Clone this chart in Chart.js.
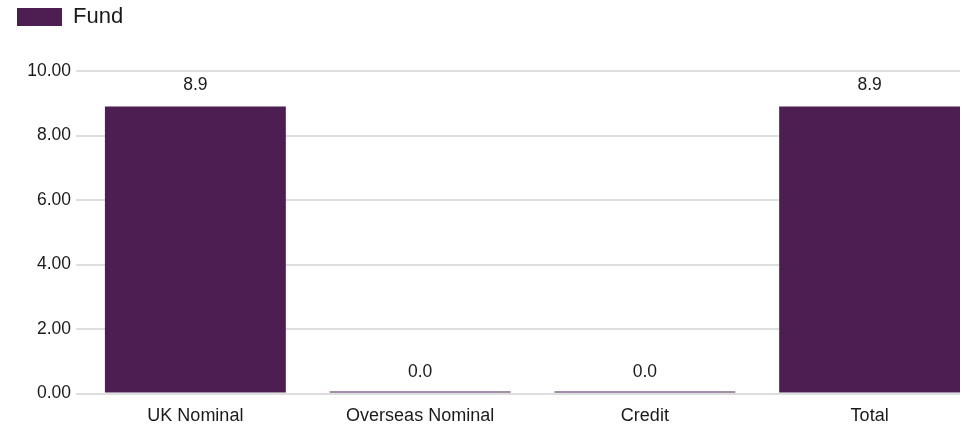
<!DOCTYPE html>
<html>
<head>
<meta charset="utf-8">
<script src="https://cdn.jsdelivr.net/npm/chart.js@4.4.0/dist/chart.umd.min.js"></script>
<style>
  html, body { margin: 0; padding: 0; background: #fff; }
  #wrap { width: 960px; height: 427px; overflow: hidden; }
</style>
</head>
<body>
<div id="wrap">
  <canvas id="grafico" width="982" height="427"></canvas>
</div>
<script>
// Dados do gráfico
const categorias = ["UK Nominal", "Overseas Nominal", "Credit", "Total"];
const valoresFund = [8.9, 0.0, 0.0, 8.9];
const serieNome = "Fund";
const eixoMin = 0;
const eixoMax = 10;
const eixoPasso = 2;

const corBarra = "#4d1e51";
const corTexto = "#1a1a1a";
const fonte = "'Liberation Sans', Arial, sans-serif";

// Espaço extra entre a legenda e a área do gráfico
const espacoLegenda = {
  id: "espacoLegenda",
  beforeInit(chart) {
    const fitOriginal = chart.legend.fit;
    chart.legend.fit = function () {
      fitOriginal.call(this);
      this.height += 33;
    };
  }
};

// Rótulos com o valor em cima de cada barra
const rotulosValor = {
  id: "rotulosValor",
  afterDatasetsDraw(chart) {
    const ctx = chart.ctx;
    const y = chart.scales.y;
    const meta = chart.getDatasetMeta(0);
    ctx.save();
    ctx.font = "17.5px " + fonte;
    ctx.fillStyle = corTexto;
    ctx.textAlign = "center";
    ctx.textBaseline = "bottom";
    meta.data.forEach((barra, i) => {
      const v = valoresFund[i];
      ctx.fillText(v.toFixed(1), barra.x, y.getPixelForValue(v) - 13);
    });
    ctx.restore();
  }
};

const ctx = document.getElementById("grafico");
new Chart(ctx, {
  type: "bar",
  data: {
    labels: categorias,
    datasets: [{
      label: serieNome,
      data: valoresFund,
      backgroundColor: corBarra,
      borderWidth: 0,
      minBarLength: 2,
      barPercentage: 0.805,
      categoryPercentage: 1
    }]
  },
  options: {
    responsive: false,
    animation: false,
    layout: { padding: { top: 1, left: 12, right: 0, bottom: 0 } },
    plugins: {
      legend: {
        position: "top",
        align: "start",
        labels: {
          font: { family: fonte, size: 22 },
          color: corTexto,
          boxWidth: 45,
          boxHeight: 18,
          padding: 5
        }
      },
      tooltip: { enabled: false }
    },
    scales: {
      x: {
        afterFit(scale) { scale.height = 33.5; },
        grid: { display: false },
        border: { display: false },
        ticks: {
          font: { family: fonte, size: 18 },
          color: corTexto,
          padding: 4,
          maxRotation: 0
        }
      },
      y: {
        min: eixoMin,
        max: eixoMax,
        afterFit(scale) { scale.width = 71; },
        grid: { color: "#dedede", lineWidth: 2, tickLength: 7 },
        border: { display: false },
        ticks: {
          stepSize: eixoPasso,
          font: { family: fonte, size: 17.5 },
          color: corTexto,
          padding: 5,
          callback: v => v.toFixed(2)
        }
      }
    }
  },
  plugins: [espacoLegenda, rotulosValor]
});
</script>
</body>
</html>
